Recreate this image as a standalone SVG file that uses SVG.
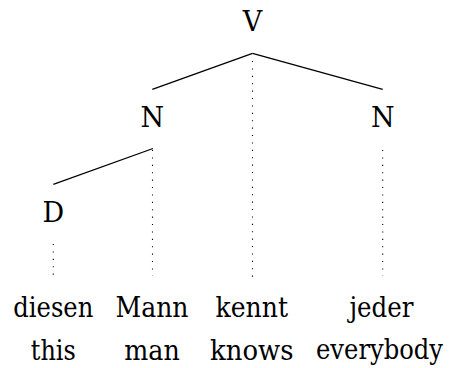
<svg xmlns="http://www.w3.org/2000/svg" width="449" height="368" viewBox="0 0 449 368">
<style>
text{font-family:"DejaVu Serif",serif;font-size:27px;fill:#000;text-anchor:middle}
.e{stroke:#000;stroke-width:1.3;fill:none}
.d{stroke:#000;stroke-width:1.1;fill:none;stroke-dasharray:1.1 6.3}
</style>
<rect width="449" height="368" fill="#fff"/>
<g id="connectors">
<line class="e" x1="252.5" y1="53.3" x2="152.3" y2="89.3"/>
<line class="e" x1="252.5" y1="53.3" x2="382.7" y2="89.3"/>
<line class="e" x1="153" y1="148.5" x2="53.3" y2="184.3"/>
<line class="d" x1="252.5" y1="61" x2="252.5" y2="278"/>
<line class="d" x1="152.5" y1="150" x2="152.5" y2="276"/>
<line class="d" x1="382.7" y1="150" x2="382.7" y2="276"/>
<line class="d" x1="53.3" y1="244" x2="53.3" y2="276"/>
</g>
<g id="V"><text x="252.5" y="30.5">V</text></g>
<g id="N1"><text x="152.3" y="127">N</text></g>
<g id="N2"><text x="382.7" y="127">N</text></g>
<g id="D"><text x="53.3" y="221.5">D</text></g>
<g id="w1"><text x="53.3" y="316.7" textLength="80" lengthAdjust="spacingAndGlyphs">diesen</text><text x="53.3" y="359.5" textLength="45" lengthAdjust="spacingAndGlyphs">this</text></g>
<g id="w2"><text x="152" y="316.7" textLength="73" lengthAdjust="spacingAndGlyphs">Mann</text><text x="152" y="359.5" textLength="55.5" lengthAdjust="spacingAndGlyphs">man</text></g>
<g id="w3"><text x="251.8" y="316.7" textLength="72.5" lengthAdjust="spacingAndGlyphs">kennt</text><text x="251.8" y="359.5" textLength="83.5" lengthAdjust="spacingAndGlyphs">knows</text></g>
<g id="w4"><text x="381.5" y="316.7" textLength="64" lengthAdjust="spacingAndGlyphs">jeder</text><text x="379.5" y="359" font-size="25" textLength="127" lengthAdjust="spacingAndGlyphs">everybody</text></g>
</svg>
